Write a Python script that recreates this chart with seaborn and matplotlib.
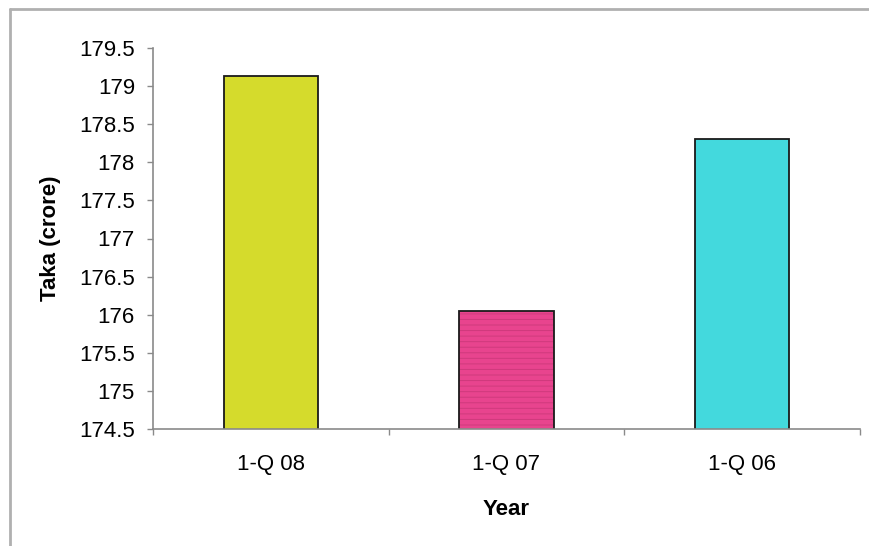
import matplotlib
matplotlib.use("Agg")
import matplotlib.pyplot as plt
from matplotlib.lines import Line2D
import seaborn as sns
import pandas as pd

# Quarterly totals, in crore Taka
quarters = ["1-Q 08", "1-Q 07", "1-Q 06"]
taka = [179.13, 176.05, 178.31]
bar_colors = ["#D5DB2C", "#E8448E", "#43D9DD"]
y_ticks = [174.5, 175, 175.5, 176, 176.5, 177, 177.5, 178, 178.5, 179, 179.5]

df = pd.DataFrame({"Year": quarters, "Taka": taka})

sns.set_style("white")
plt.rcParams["font.family"] = ["Liberation Sans", "DejaVu Sans"]
plt.rcParams["text.color"] = "black"
plt.rcParams["axes.labelcolor"] = "black"
plt.rcParams["hatch.linewidth"] = 0.7

fig = plt.figure(figsize=(8.69, 5.46), dpi=100)
ax = fig.add_axes([153 / 869, 1 - 429 / 546, (860 - 153) / 869, (429 - 48) / 546])

# Fill pass: face colours, with a faint stripe texture on the middle bar
sns.barplot(data=df, x="Year", y="Taka", hue="Year", palette=bar_colors,
            saturation=1, width=0.4, edgecolor="#CF3A7C", linewidth=0,
            legend=False, ax=ax)
for i, p in enumerate(ax.patches):
    p.set_hatch("---" if i == 1 else None)
# Outline pass
sns.barplot(data=df, x="Year", y="Taka", width=0.4, fill=False,
            edgecolor="#1a1a1a", linewidth=1.3, err_kws={"linewidth": 0}, ax=ax)

ax.set_ylim(174.5, 179.5)
ax.set_xlim(-0.5, 2.5)
ax.set_yticks(y_ticks)
ax.set_yticklabels([f"{v:g}" for v in y_ticks])
ax.set_xticks(range(len(quarters)))
ax.set_xticklabels(quarters)
ax.set_xticks([-0.5, 0.5, 1.5, 2.5], minor=True)

for s in ["top", "right"]:
    ax.spines[s].set_visible(False)
for s in ["left", "bottom"]:
    ax.spines[s].set_color("#8a8a8a")
    ax.spines[s].set_linewidth(1.2)

ax.tick_params(axis="y", which="major", left=True, length=4, width=1.0,
               color="#8a8a8a", labelsize=16, pad=9, labelcolor="black")
ax.tick_params(axis="x", which="major", bottom=False, length=0, labelsize=16,
               pad=18, labelcolor="black")
ax.tick_params(axis="x", which="minor", bottom=True, length=4, width=1.0,
               color="#8a8a8a")

ax.set_xlabel("Year", fontsize=16, fontweight="bold", labelpad=17, color="black")
ax.set_ylabel("Taka (crore)", fontsize=16, fontweight="bold", labelpad=13, color="black")

# Outer chart frame (left and top edges)
fig.add_artist(Line2D([9.5 / 869, 9.5 / 869], [0, 1 - 8.5 / 546],
                      transform=fig.transFigure, color="#b0b0b0", linewidth=2))
fig.add_artist(Line2D([9.5 / 869, 1], [1 - 8.5 / 546, 1 - 8.5 / 546],
                      transform=fig.transFigure, color="#b0b0b0", linewidth=2))

fig.savefig("out.png", dpi=100, facecolor="white")
